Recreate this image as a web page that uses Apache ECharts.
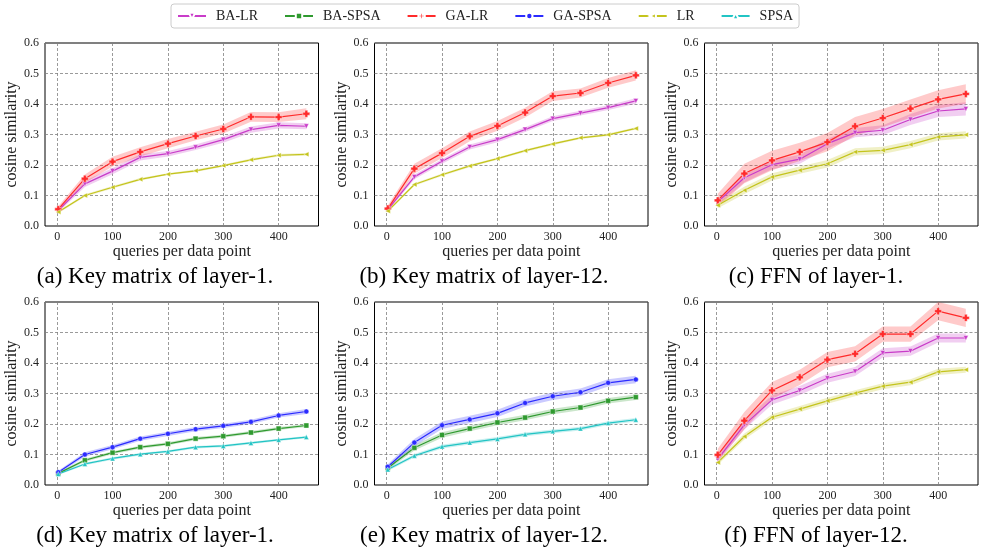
<!DOCTYPE html>
<html>
<head>
<meta charset="utf-8">
<title>cosine similarity vs queries per data point</title>
<script src="https://cdn.jsdelivr.net/npm/echarts@6/dist/echarts.min.js"></script>
<style>
html, body { margin: 0; padding: 0; background: #fff; }
#main { width: 982px; height: 550px; }
</style>
</head>
<body>
<div id="main"></div>
<script>
// x: queries per data point
var queries = [2, 50, 100, 150, 200, 250, 300, 350, 400, 450];
var xTicks = [0, 100, 200, 300, 400];
var methods = ['BA-LR', 'BA-SPSA', 'GA-LR', 'GA-SPSA', 'LR', 'SPSA'];

// (a) Key matrix of layer-1
var a_BALR = [0.051, 0.138, 0.180, 0.225, 0.237, 0.258, 0.283, 0.316, 0.330, 0.327];
var a_BALR_err = [0.006, 0.010, 0.010, 0.010, 0.009, 0.009, 0.010, 0.010, 0.010, 0.010];
var a_GALR = [0.055, 0.155, 0.211, 0.243, 0.270, 0.295, 0.318, 0.358, 0.357, 0.368];
var a_GALR_err = [0.010, 0.014, 0.016, 0.015, 0.015, 0.014, 0.015, 0.016, 0.016, 0.018];
var a_LR = [0.046, 0.100, 0.127, 0.153, 0.170, 0.181, 0.198, 0.217, 0.232, 0.235];
var a_LR_err = [0.004, 0.004, 0.004, 0.004, 0.003, 0.004, 0.004, 0.004, 0.004, 0.004];

// (b) Key matrix of layer-12
var b_BALR = [0.054, 0.161, 0.212, 0.259, 0.283, 0.316, 0.352, 0.370, 0.388, 0.410];
var b_BALR_err = [0.006, 0.008, 0.008, 0.008, 0.008, 0.008, 0.008, 0.008, 0.008, 0.009];
var b_GALR = [0.057, 0.188, 0.239, 0.294, 0.328, 0.372, 0.426, 0.436, 0.469, 0.494];
var b_GALR_err = [0.010, 0.016, 0.016, 0.016, 0.016, 0.016, 0.016, 0.015, 0.016, 0.017];
var b_LR = [0.049, 0.136, 0.168, 0.197, 0.221, 0.247, 0.269, 0.289, 0.299, 0.320];
var b_LR_err = [0.004, 0.004, 0.004, 0.004, 0.004, 0.004, 0.004, 0.004, 0.004, 0.004];

// (c) FFN of layer-1
var c_BALR = [0.079, 0.158, 0.201, 0.219, 0.270, 0.306, 0.314, 0.349, 0.377, 0.384];
var c_BALR_err = [0.010, 0.015, 0.015, 0.015, 0.016, 0.015, 0.016, 0.018, 0.020, 0.022];
var c_GALR = [0.084, 0.172, 0.215, 0.243, 0.275, 0.327, 0.354, 0.385, 0.415, 0.433];
var c_GALR_err = [0.022, 0.032, 0.032, 0.030, 0.030, 0.030, 0.030, 0.030, 0.030, 0.032];
var c_LR = [0.068, 0.117, 0.161, 0.183, 0.204, 0.243, 0.248, 0.267, 0.292, 0.299];
var c_LR_err = [0.010, 0.012, 0.012, 0.012, 0.012, 0.012, 0.012, 0.012, 0.012, 0.012];

// (d) Key matrix of layer-1
var d_BASPSA = [0.038, 0.081, 0.106, 0.124, 0.135, 0.152, 0.160, 0.172, 0.185, 0.195];
var d_BASPSA_err = [0.004, 0.005, 0.005, 0.005, 0.005, 0.005, 0.005, 0.005, 0.005, 0.005];
var d_GASPSA = [0.042, 0.100, 0.124, 0.152, 0.168, 0.183, 0.194, 0.207, 0.228, 0.241];
var d_GASPSA_err = [0.005, 0.007, 0.007, 0.007, 0.007, 0.007, 0.007, 0.007, 0.007, 0.008];
var d_SPSA = [0.036, 0.069, 0.087, 0.101, 0.110, 0.124, 0.128, 0.138, 0.148, 0.157];
var d_SPSA_err = [0.003, 0.004, 0.004, 0.004, 0.004, 0.004, 0.004, 0.004, 0.004, 0.004];

// (e) Key matrix of layer-12
var e_BASPSA = [0.056, 0.122, 0.164, 0.185, 0.205, 0.221, 0.241, 0.254, 0.276, 0.288];
var e_BASPSA_err = [0.006, 0.009, 0.009, 0.009, 0.009, 0.009, 0.009, 0.009, 0.009, 0.009];
var e_GASPSA = [0.060, 0.139, 0.196, 0.215, 0.235, 0.269, 0.291, 0.304, 0.335, 0.346];
var e_GASPSA_err = [0.008, 0.012, 0.012, 0.012, 0.012, 0.012, 0.012, 0.012, 0.012, 0.012];
var e_SPSA = [0.051, 0.096, 0.126, 0.139, 0.151, 0.166, 0.176, 0.185, 0.203, 0.214];
var e_SPSA_err = [0.005, 0.006, 0.006, 0.006, 0.006, 0.006, 0.006, 0.006, 0.006, 0.006];

// (f) FFN of layer-12
var f_BALR = [0.085, 0.197, 0.279, 0.310, 0.350, 0.372, 0.433, 0.439, 0.482, 0.482];
var f_BALR_err = [0.010, 0.015, 0.015, 0.015, 0.015, 0.015, 0.015, 0.015, 0.015, 0.015];
var f_GALR = [0.099, 0.211, 0.310, 0.353, 0.411, 0.430, 0.495, 0.495, 0.570, 0.548];
var f_GALR_err = [0.020, 0.028, 0.028, 0.025, 0.025, 0.025, 0.025, 0.025, 0.030, 0.030];
var f_LR = [0.074, 0.159, 0.222, 0.249, 0.276, 0.301, 0.324, 0.337, 0.371, 0.378];
var f_LR_err = [0.008, 0.010, 0.010, 0.010, 0.010, 0.010, 0.010, 0.010, 0.010, 0.010];

var panels = [
  { caption: '(a) Key matrix of layer-1.', lines: [['BA-LR', a_BALR, a_BALR_err], ['GA-LR', a_GALR, a_GALR_err], ['LR', a_LR, a_LR_err]] },
  { caption: '(b) Key matrix of layer-12.', lines: [['BA-LR', b_BALR, b_BALR_err], ['GA-LR', b_GALR, b_GALR_err], ['LR', b_LR, b_LR_err]] },
  { caption: '(c) FFN of layer-1.', lines: [['BA-LR', c_BALR, c_BALR_err], ['GA-LR', c_GALR, c_GALR_err], ['LR', c_LR, c_LR_err]] },
  { caption: '(d) Key matrix of layer-1.', lines: [['BA-SPSA', d_BASPSA, d_BASPSA_err], ['GA-SPSA', d_GASPSA, d_GASPSA_err], ['SPSA', d_SPSA, d_SPSA_err]] },
  { caption: '(e) Key matrix of layer-12.', lines: [['BA-SPSA', e_BASPSA, e_BASPSA_err], ['GA-SPSA', e_GASPSA, e_GASPSA_err], ['SPSA', e_SPSA, e_SPSA_err]] },
  { caption: '(f) FFN of layer-12.', lines: [['BA-LR', f_BALR, f_BALR_err], ['GA-LR', f_GALR, f_GALR_err], ['LR', f_LR, f_LR_err]] }
];

// 线条颜色和标记
var styles = {
  'BA-LR':   { color: '#c93cc9', symbol: 'triangle', rotate: 180, size: 5 },
  'BA-SPSA': { color: '#2f9a2f', symbol: 'rect', rotate: 0, size: 5 },
  'GA-LR':   { color: '#ff2b2b', symbol: 'path://M3,0H7V3H10V7H7V10H3V7H0V3H3Z', rotate: 0, size: 7 },
  'GA-SPSA': { color: '#2b2bff', symbol: 'circle', rotate: 0, size: 5 },
  'LR':      { color: '#c4c41c', symbol: 'triangle', rotate: 90, size: 5 },
  'SPSA':    { color: '#22c4c4', symbol: 'triangle', rotate: 0, size: 5 }
};

var font = '"Liberation Serif", "Times New Roman", serif';
var gridLeft = [45, 374.5, 704.5];
var gridTop = [43, 302];
var nameGapY = [24, 22, 22];
var captionX = [155, 484, 816];
var captionY = [277, 536];

// 阴影带：整条多边形只在第一个数据项里画
function bandRenderer(fill) {
  return function (params, api) {
    if (params.dataIndexInside !== 0) return;
    var n = params.dataInsideLength;
    var upper = [], lower = [];
    for (var j = 0; j < n; j++) {
      upper.push(api.coord([api.value(0, j), api.value(2, j)]));
      lower.push(api.coord([api.value(0, j), api.value(1, j)]));
    }
    return {
      type: 'polygon',
      shape: { points: upper.concat(lower.reverse()) },
      style: { fill: fill },
      silent: true
    };
  };
}

var option = {
  animation: false,
  legend: {
    data: methods,
    top: 4,
    left: 171,
    itemWidth: 28,
    itemHeight: 8,
    itemGap: 26,
    padding: [5, 6],
    borderColor: '#cccccc',
    borderWidth: 1,
    borderRadius: 3,
    textStyle: { fontFamily: font, fontSize: 14, color: '#222', padding: [0, 0, 0, 5] }
  },
  grid: [],
  xAxis: [],
  yAxis: [],
  series: [],
  graphic: []
};

panels.forEach(function (p, i) {
  var col = i % 3, row = Math.floor(i / 3);
  option.grid.push({
    left: gridLeft[col], top: gridTop[row], width: 273.5, height: 183,
    show: true, borderColor: '#000', borderWidth: 1, backgroundColor: 'transparent'
  });
  option.xAxis.push({
    type: 'value', gridIndex: i, min: -22, max: 472,
    name: 'queries per data point', nameLocation: 'middle', nameGap: 17,
    nameTextStyle: { fontFamily: font, fontSize: 16, color: '#222' },
    axisLine: { show: false },
    axisTick: { show: false, customValues: xTicks },
    axisLabel: { customValues: xTicks, margin: 5, fontFamily: font, fontSize: 12, color: '#222' },
    splitLine: { show: true, lineStyle: { color: '#808080', width: 0.8, type: [3, 2] } }
  });
  option.yAxis.push({
    type: 'value', gridIndex: i, min: 0, max: 0.6, interval: 0.1,
    name: 'cosine similarity', nameLocation: 'middle', nameGap: nameGapY[col],
    nameTextStyle: { fontFamily: font, fontSize: 16, color: '#222' },
    axisLine: { show: false },
    axisTick: { show: false },
    axisLabel: { margin: 6, fontFamily: font, fontSize: 12, color: '#222',
      formatter: function (v) { return v.toFixed(1); } },
    splitLine: { show: true, lineStyle: { color: '#808080', width: 0.8, type: [3, 2] } }
  });

  p.lines.forEach(function (ln) {
    var st = styles[ln[0]];
    option.series.push({
      type: 'custom', name: 'band', xAxisIndex: i, yAxisIndex: i, z: 1, silent: true,
      renderItem: bandRenderer(echarts.color.modifyAlpha(st.color, 0.25)),
      encode: { x: 0, y: [1, 2] },
      data: queries.map(function (q, j) { return [q, ln[1][j] - ln[2][j], ln[1][j] + ln[2][j]]; })
    });
  });

  p.lines.forEach(function (ln) {
    var st = styles[ln[0]];
    option.series.push({
      type: 'line', name: ln[0], xAxisIndex: i, yAxisIndex: i, z: 3,
      data: queries.map(function (q, j) { return [q, ln[1][j]]; }),
      symbol: st.symbol, symbolSize: st.size, symbolRotate: st.rotate,
      lineStyle: { color: st.color, width: 1.2 },
      itemStyle: { color: st.color, borderColor: '#fff', borderWidth: 0.4 }
    });
  });

  option.graphic.push({
    type: 'text', x: captionX[col], y: captionY[row],
    style: { text: p.caption, font: '23px ' + font, fill: '#000',
      textAlign: 'center', textVerticalAlign: 'middle' }
  });
});

var myChart = echarts.init(document.getElementById('main'));
myChart.setOption(option);
</script>
</body>
</html>
